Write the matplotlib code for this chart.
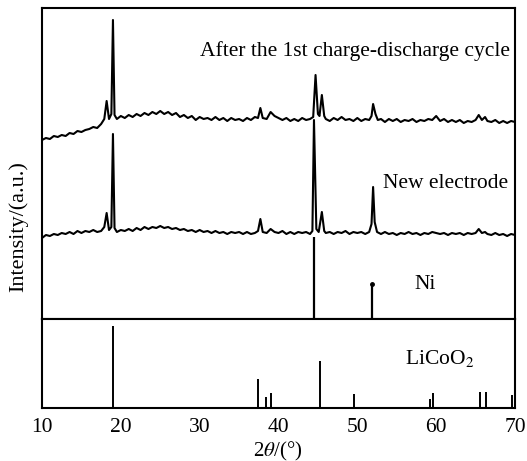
import matplotlib
matplotlib.use('Agg')
import matplotlib.pyplot as plt

plt.rcParams['font.family'] = ['Liberation Serif', 'DejaVu Serif']
plt.rcParams['mathtext.fontset'] = 'stix'

# after the 1st charge-discharge cycle (2theta, intensity a.u.)
after_tt = [10.0, 10.5, 11.0, 11.5, 12.0, 12.5, 13.0, 13.5, 14.0, 14.5, 15.0, 15.5, 16.0, 16.5, 17.0, 17.5,
            17.9, 18.2, 18.5, 18.8, 19.0, 19.2, 19.5, 20.0, 20.5, 21.0, 21.5, 22.0, 22.5, 23.0, 23.5, 24.0,
            24.5, 25.0, 25.5, 26.0, 26.5, 27.0, 27.5, 28.0, 28.5, 29.0, 29.5, 30.0, 30.5, 31.0, 31.5, 32.0,
            32.5, 33.0, 33.5, 34.0, 34.5, 35.0, 35.5, 36.0, 36.5, 37.0, 37.4, 37.7, 38.0, 38.5, 39.0, 39.5,
            40.0, 40.5, 41.0, 41.5, 42.0, 42.5, 43.0, 43.5, 44.0, 44.4, 44.7, 45.0, 45.2, 45.5, 45.8, 46.0,
            46.5, 47.0, 47.5, 48.0, 48.5, 49.0, 49.5, 50.0, 50.5, 51.0, 51.5, 51.8, 52.0, 52.3, 52.6, 53.0,
            53.5, 54.0, 54.5, 55.0, 55.5, 56.0, 56.5, 57.0, 57.5, 58.0, 58.5, 59.0, 59.5, 60.0, 60.5, 61.0,
            61.5, 62.0, 62.5, 63.0, 63.5, 64.0, 64.5, 65.0, 65.4, 65.8, 66.2, 66.5, 67.0, 67.5, 68.0, 68.5,
            69.0, 69.5, 70.0]
after_int = [179, 181, 180, 183, 182, 184, 183, 186, 185, 188, 187, 189, 190, 192, 191, 195,
             200, 218, 200, 205, 299, 204, 200, 203, 201, 204, 202, 205, 203, 206, 204, 207,
             205, 208, 205, 207, 204, 206, 202, 204, 201, 203, 199, 202, 200, 201, 199, 202,
             199, 201, 198, 201, 199, 200, 198, 201, 199, 202, 201, 211, 201, 200, 207, 203,
             201, 199, 201, 198, 200, 198, 201, 199, 200, 202, 244, 205, 203, 224, 203, 200,
             198, 201, 199, 202, 199, 200, 198, 201, 198, 200, 199, 203, 215, 205, 199, 200,
             197, 200, 198, 200, 197, 199, 198, 200, 197, 199, 198, 200, 199, 203, 198, 200,
             197, 199, 197, 199, 196, 198, 197, 199, 204, 199, 202, 198, 197, 199, 196, 198,
             196, 198, 197]

# new electrode
new_tt = [10.0, 10.5, 11.0, 11.5, 12.0, 12.5, 13.0, 13.5, 14.0, 14.5, 15.0, 15.5, 16.0, 16.5, 17.0, 17.5,
          17.9, 18.2, 18.5, 18.8, 19.0, 19.2, 19.5, 20.0, 20.5, 21.0, 21.5, 22.0, 22.5, 23.0, 23.5, 24.0,
          24.5, 25.0, 25.5, 26.0, 26.5, 27.0, 27.5, 28.0, 28.5, 29.0, 29.5, 30.0, 30.5, 31.0, 31.5, 32.0,
          32.5, 33.0, 33.5, 34.0, 34.5, 35.0, 35.5, 36.0, 36.5, 37.0, 37.4, 37.7, 38.0, 38.5, 39.0, 39.5,
          40.0, 40.5, 41.0, 41.5, 42.0, 42.5, 43.0, 43.5, 44.0, 44.3, 44.5, 44.8, 45.1, 45.5, 45.8, 46.0,
          46.5, 47.0, 47.5, 48.0, 48.5, 49.0, 49.5, 50.0, 50.5, 51.0, 51.5, 51.8, 52.0, 52.2, 52.5, 53.0,
          53.5, 54.0, 54.5, 55.0, 55.5, 56.0, 56.5, 57.0, 57.5, 58.0, 58.5, 59.0, 59.5, 60.0, 60.5, 61.0,
          61.5, 62.0, 62.5, 63.0, 63.5, 64.0, 64.5, 65.0, 65.4, 65.8, 66.2, 66.5, 67.0, 67.5, 68.0, 68.5,
          69.0, 69.5, 70.0]
new_int = [81, 84, 83, 85, 84, 86, 85, 87, 85, 88, 86, 88, 87, 89, 87, 88,
           92, 106, 89, 92, 185, 91, 87, 89, 88, 90, 88, 91, 89, 92, 90, 92,
           91, 93, 91, 92, 90, 91, 89, 90, 88, 89, 87, 89, 87, 88, 86, 88,
           86, 87, 85, 87, 86, 87, 85, 87, 85, 86, 88, 100, 87, 86, 90, 87,
           86, 88, 85, 87, 85, 87, 86, 87, 85, 88, 199, 90, 87, 107, 88, 86,
           87, 85, 87, 86, 88, 85, 87, 86, 87, 85, 87, 95, 132, 97, 87, 85,
           87, 85, 86, 84, 86, 85, 87, 85, 86, 84, 86, 85, 87, 86, 85, 86,
           84, 86, 85, 86, 84, 86, 85, 86, 90, 86, 87, 85, 84, 86, 84, 85,
           83, 85, 84]

# Ni reference sticks
ni_tt = [44.5, 51.9]
ni_int = [82, 35]

# LiCoO2 reference sticks
licoo2_tt = [19.0, 37.4, 38.4, 39.1, 45.3, 49.6, 59.2, 59.6, 65.5, 66.3, 69.6]
licoo2_int = [82, 29, 11, 15, 47, 14, 9, 15, 16, 16, 13]

fig = plt.figure(figsize=(5.27, 4.61), dpi=100)
ax1 = fig.add_axes([42/527, 1 - 319/461, 473/527, 311/461])
ax2 = fig.add_axes([42/527, 1 - 408/461, 473/527, 89/461])

ax1.plot(after_tt, after_int, color='black', lw=1.5)
ax1.plot(new_tt, new_int, color='black', lw=1.5)
ax1.vlines(ni_tt, 0, ni_int, color='black', lw=1.6)
ax1.plot([ni_tt[1]], [ni_int[1]], 'o', color='black', ms=2.5)
ax1.set_xlim(10, 70)
ax1.set_ylim(0, 311)
ax1.set_xticks([])
ax1.set_yticks([])

ax2.vlines(licoo2_tt, 0, licoo2_int, color='black', lw=1.4)
ax2.set_xlim(10, 70)
ax2.set_ylim(0, 89)
ax2.set_yticks([])
ax2.set_xticks([10, 20, 30, 40, 50, 60, 70])
ax2.tick_params(axis='x', length=0, pad=7, labelsize=15.5)

for ax in (ax1, ax2):
    for sp in ax.spines.values():
        sp.set_linewidth(1.5)

ax1.text(0.99, 0.86, 'After the 1st charge-discharge cycle', transform=ax1.transAxes,
         ha='right', va='center', fontsize=15.5)
ax1.text(0.985, 0.435, 'New electrode', transform=ax1.transAxes,
         ha='right', va='center', fontsize=15.5)
ax1.text(0.81, 0.11, 'Ni', transform=ax1.transAxes, ha='center', va='center', fontsize=15.5)
ax2.text(0.84, 0.56, 'LiCoO$_2$', transform=ax2.transAxes, ha='center', va='center', fontsize=15.5)

fig.text(278/527, 1 - 451/461, r'2$\theta$/(°)', ha='center', va='center', fontsize=15)
fig.text(18/527, 1 - 227/461, 'Intensity/(a.u.)', rotation=90, ha='center', va='center', fontsize=16)

fig.savefig('out.png', dpi=100)
